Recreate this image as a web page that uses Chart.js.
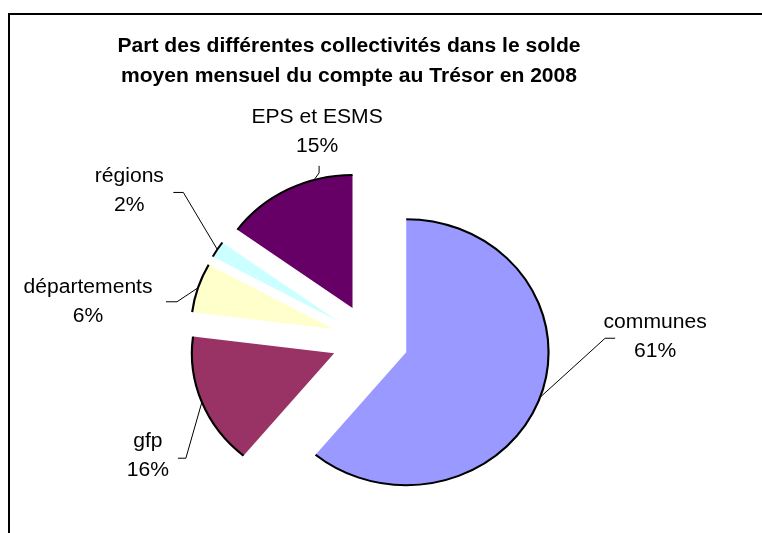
<!DOCTYPE html>
<html>
<head>
<meta charset="utf-8">
<script src="https://cdn.jsdelivr.net/npm/chart.js@4.4.0/dist/chart.umd.min.js"></script>
<style>
html,body{margin:0;padding:0;background:#fff;}
#wrap{position:relative;width:762px;height:533px;overflow:hidden;background:#fff;}
#frame{position:absolute;left:8px;top:13px;width:800px;height:600px;border-left:2px solid #000;border-top:2px solid #000;}
canvas{position:absolute;left:0;top:0;}
</style>
</head>
<body>
<div id="wrap"><div id="frame"></div><canvas id="c" width="762" height="533"></canvas></div>
<script>
// ---- data ----
const titleLines = ['Part des différentes collectivités dans le solde', 'moyen mensuel du compte au Trésor en 2008'];
const categories = ['communes', 'gfp', 'départements', 'régions', 'EPS et ESMS'];
const shares = [61, 16, 6, 2, 15];

// ---- style ----
const colors = ['#9999FF', '#993366', '#FFFFCC', '#CCFFFF', '#660066'];
const CENTER_X = 370, CENTER_Y = 340, RADIUS = 133, EXPLODE = 36, SX = 1.07;
const W = 762, H = 533;
const FONT = '"Liberation Sans", Arial, sans-serif';
const LABEL_SIZE = 20, LINE_H = 29, TEXT_SX = 1.055;
const TITLE_X = 349, TITLE_Y = [46, 76];
// leader attachment along each arc (0..1), leader points & label centre relative to the anchor
const leaderFrac = [0.5, 0.5, 0.5, 0.5, 0.71];
const leaderPts = [[[65,-59],[75,-59]], [[-16,56],[-24,56]], [[-21,14],[-32,14]], [[-34,-57],[-44,-57]], [[5,-7],[5,-14]]];
const labelOff = [[115,-60], [-54,54], [-110,14], [-88,-58], [3,-48]];

const total = shares.reduce((a, b) => a + b, 0);

function stretchedText(ctx, text, x, y) {
  ctx.save();
  ctx.translate(x, y); ctx.scale(TEXT_SX, 1);
  ctx.fillText(text, 0, 0);
  ctx.restore();
}

const explodedPie = {
  id: 'explodedPie',
  beforeDatasetDraw(chart, args) {
    const ctx = chart.ctx, a = chart.chartArea;
    const cx = (a.left + a.right) / 2;
    const meta = args.meta;
    const anchors = [];
    ctx.save();
    ctx.translate(cx, 0); ctx.scale(SX, 1); ctx.translate(-cx, 0);
    meta.data.forEach((arc, i) => {
      const p = arc.getProps(['x', 'y', 'startAngle', 'endAngle', 'outerRadius'], true);
      const half = (p.startAngle + p.endAngle) / 2;
      const dx = Math.cos(half) * EXPLODE, dy = Math.sin(half) * EXPLODE;
      ctx.save();
      ctx.translate(dx, dy);
      arc.draw(ctx);
      ctx.beginPath();
      ctx.arc(p.x, p.y, p.outerRadius, p.startAngle, p.endAngle);
      ctx.lineWidth = 2; ctx.strokeStyle = '#000';
      ctx.stroke();
      ctx.restore();
      const ang = p.startAngle + leaderFrac[i] * (p.endAngle - p.startAngle);
      const ux = p.x + dx + Math.cos(ang) * p.outerRadius, uy = p.y + dy + Math.sin(ang) * p.outerRadius;
      anchors.push([cx + (ux - cx) * SX, uy]);
    });
    ctx.restore();

    // leader lines and labels
    ctx.save();
    ctx.strokeStyle = '#000'; ctx.lineWidth = 1;
    ctx.fillStyle = '#000';
    ctx.font = LABEL_SIZE + 'px ' + FONT;
    ctx.textAlign = 'center'; ctx.textBaseline = 'middle';
    anchors.forEach((an, i) => {
      ctx.beginPath();
      ctx.moveTo(an[0], an[1]);
      leaderPts[i].forEach(pt => ctx.lineTo(an[0] + pt[0], an[1] + pt[1]));
      ctx.stroke();
      const lx = an[0] + labelOff[i][0], ly = an[1] + labelOff[i][1];
      const pct = Math.round(shares[i] / total * 100) + '%';
      stretchedText(ctx, categories[i], lx, ly - LINE_H / 2);
      stretchedText(ctx, pct, lx, ly + LINE_H / 2);
    });
    // title
    ctx.font = 'bold 20px ' + FONT;
    titleLines.forEach((t, k) => stretchedText(ctx, t, TITLE_X, TITLE_Y[k]));
    ctx.restore();
    return false;
  }
};

new Chart(document.getElementById('c'), {
  type: 'pie',
  data: {
    labels: categories,
    datasets: [{
      data: shares,
      backgroundColor: colors,
      borderWidth: 0,
      offset: 0,
      radius: RADIUS,
      clip: false
    }]
  },
  options: {
    responsive: false,
    animation: false,
    radius: RADIUS,
    layout: { padding: { left: 0, right: W - CENTER_X * 2, top: CENTER_Y * 2 - H + 13, bottom: 13 } },
    plugins: { legend: { display: false }, tooltip: { enabled: false }, title: { display: false } }
  },
  plugins: [explodedPie]
});
</script>
</body>
</html>
